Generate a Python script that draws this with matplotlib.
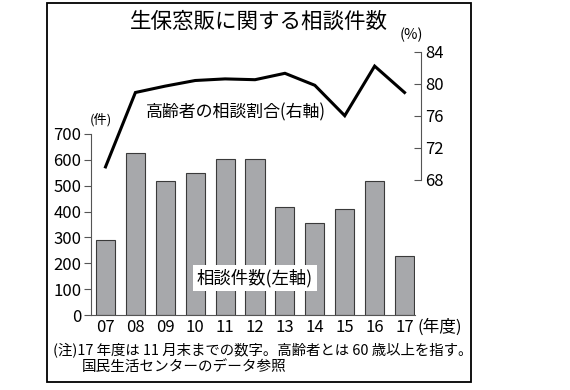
import matplotlib
matplotlib.use("Agg")
import matplotlib.pyplot as plt
from matplotlib.patches import Rectangle

plt.rcParams['font.family'] = ['Noto Sans CJK JP', 'DejaVu Sans']

# Data
years = ["07", "08", "09", "10", "11", "12", "13", "14", "15", "16", "17"]
counts = [290, 627, 517, 550, 604, 603, 418, 356, 410, 519, 228]
elderly_share = [69.6, 78.9, 79.7, 80.4, 80.6, 80.5, 81.3, 79.8, 76.0, 82.2, 78.9]

left_ticks = [0, 100, 200, 300, 400, 500, 600, 700]
right_ticks = [68, 72, 76, 80, 84]

W, H = 570, 390
fig = plt.figure(figsize=(W / 100, H / 100), dpi=100)

# frame around the whole chart
fig.patches.append(Rectangle((47 / W, 1 - 382 / H), 424 / W, 379 / H,
                             transform=fig.transFigure, fill=False,
                             edgecolor="black", linewidth=1.3))

x = list(range(len(years)))
xlo, xhi = -0.485, 10.35
axl, axr = 91, 415

# bar axes (left)
ax = fig.add_axes([axl / W, 1 - 315 / H, (axr - axl) / W, (315 - 134) / H])
ax.bar(x, counts, width=0.64, color="#a7a8ab", edgecolor="#3a3a3a", linewidth=0.8)
ax.set_xlim(xlo, xhi)
ax.set_ylim(0, 700)
ax.set_yticks(left_ticks)
ax.set_xticks(x)
ax.set_xticklabels(years)
for s in ["top", "right"]:
    ax.spines[s].set_visible(False)
ax.spines["left"].set_color("#555555")
ax.spines["bottom"].set_color("#555555")
ax.tick_params(axis="y", direction="out", length=5, color="#555555", labelsize=12, pad=2)
ax.tick_params(axis="x", length=0, labelsize=12, pad=3)
ax.patch.set_alpha(0)

# line axes (right)
ax2 = fig.add_axes([axl / W, 1 - 179.7 / H, (axr - axl) / W, (179.7 - 51.7) / H])
ax2.plot(x, elderly_share, color="black", linewidth=2.2, clip_on=False,
         solid_joinstyle="miter")
ax2.set_xlim(xlo, xhi)
ax2.set_ylim(68, 84)
ax2.set_xticks([])
ax2.yaxis.tick_right()
ax2.set_yticks(right_ticks)
for s in ["top", "left", "bottom"]:
    ax2.spines[s].set_visible(False)
ax2.spines["right"].set_position(("axes", (420.7 - axl) / (axr - axl)))
ax2.spines["right"].set_color("#555555")
ax2.tick_params(axis="y", direction="in", length=5, color="#555555", labelsize=12, pad=3)
ax2.patch.set_alpha(0)

# texts
fig.text(259 / W, 1 - 22 / H, "生保窓販に関する相談件数", ha="center", va="center", fontsize=15.5)
fig.text(411 / W, 1 - 35 / H, "(%)", ha="center", va="center", fontsize=10.5)
fig.text(101 / W, 1 - 120 / H, "(件)", ha="center", va="center", fontsize=9.5)
fig.text(236 / W, 1 - 112 / H, "高齢者の相談割合(右軸)", ha="center", va="center", fontsize=12.2)
fig.text(255 / W, 1 - 278 / H, "相談件数(左軸)", ha="center", va="center", fontsize=12.5,
         bbox=dict(facecolor="white", edgecolor="none", pad=2.5))
fig.text(418 / W, 1 - 327 / H, "(年度)", ha="left", va="center", fontsize=12)
fig.text(53 / W, 1 - 350 / H, "(注)17 年度は 11 月末までの数字。高齢者とは 60 歳以上を指す。",
         ha="left", va="center", fontsize=10.4)
fig.text(82 / W, 1 - 367 / H, "国民生活センターのデータ参照", ha="left", va="center", fontsize=10.5)

fig.savefig("out.png", dpi=100)
